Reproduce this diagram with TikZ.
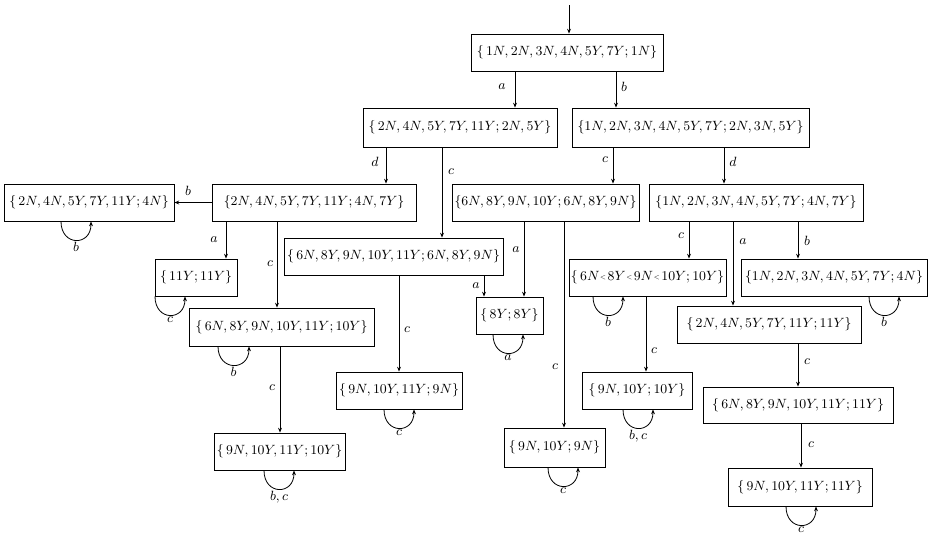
\documentclass[tikz,border=0pt]{standalone}
\usepackage{graphicx}
\usetikzlibrary{arrows.meta}
\def\pxu{0.671pt}
% small raised separator used in one state label
\newcommand\sepmark{\mkern1mu\raisebox{1.1pt}{\scalebox{0.55}{$<$}}\mkern2mu}
\begin{document}
\begin{tikzpicture}[x=0.671pt, y=-0.671pt,
  font=\fontsize{9.1pt}{11pt}\selectfont,
  box/.style={draw, line width=0.6pt, inner sep=0.5pt},
  wh/.style 2 args={minimum width=#1*\pxu, minimum height=#2*\pxu},
  ar/.style={line width=0.55pt, -{Stealth[length=3.2pt, width=2.6pt]}},
  lab/.style={inner sep=0pt},
  llab/.style={below, inner sep=1pt}]
\useasboundingbox (0,0) rectangle (929,534);

% states
\node[box, wh={192}{37}] (b0) at (567,52.5) {$\{\,1N,2N,3N,4N,5Y,7Y;1N\}$};
\node[box, wh={194}{39}] (b1) at (460,127.5) {$\{\,2N,4N,5Y,7Y,11Y;2N,5Y\}$};
\node[box, wh={237}{39}] (b2) at (690.5,127.5) {$\{1N,2N,3N,4N,5Y,7Y;2N,3N,5Y\}$};
\node[box, wh={204}{37}] (b3) at (314,202.5) {$\{2N,4N,5Y,7Y,11Y;4N,7Y\}$};
\node[box, wh={170}{37}] (b4) at (89,202.5) {$\{\,2N,4N,5Y,7Y,11Y;4N\}$};
\node[box, wh={82}{37}] (b5) at (196,277.5) {$\{\,11Y;11Y\}$};
\node[box, wh={185}{38}] (b6) at (281.5,327) {$\{\,6N,8Y,9N,10Y,11Y;10Y\}$};
\node[box, wh={219}{37}] (b7) at (393.5,256.5) {$\{\,6N,8Y,9N,10Y,11Y;6N,8Y,9N\}$};
\node[box, wh={187}{37}] (b8) at (545.5,202.5) {$\{6N,8Y,9N,10Y;6N,8Y,9N\}$};
\node[box, wh={126}{37}] (b9) at (399,390.5) {$\{\,9N,10Y,11Y;9N\}$};
\node[box, wh={214}{37}] (b10) at (756,202.5) {$\{1N,2N,3N,4N,5Y,7Y;4N,7Y\}$};
\node[box, wh={67}{37}] (b11) at (509.5,315.5) {$\{\,8Y;8Y\}$};
\node[box, wh={157}{37}] (b12) at (647.5,277.5) {$\{\,6N\sepmark 8Y\sepmark 9N\sepmark 10Y;10Y\}$};
\node[box, wh={186}{37}] (b13) at (834,277.5) {$\{1N,2N,3N,4N,5Y,7Y;4N\}$};
\node[box, wh={101}{39}] (b14) at (554.5,447.5) {$\{\,9N,10Y;9N\}$};
\node[box, wh={110}{37}] (b15) at (637,390.5) {$\{\,9N,10Y;10Y\}$};
\node[box, wh={184}{37}] (b16) at (769,324.5) {$\{\,2N,4N,5Y,7Y,11Y;11Y\}$};
\node[box, wh={190}{36}] (b17) at (798,405) {$\{\,6N,8Y,9N,10Y,11Y;11Y\}$};
\node[box, wh={144}{38}] (b18) at (800,487) {$\{\,9N,10Y,11Y;11Y\}$};
\node[box, wh={131}{37}] (b19) at (279.5,451.5) {$\{\,9N,10Y,11Y;10Y\}$};

% initial arrow
\coordinate (start) at (569,5);
\draw[ar] (start) -- (b0.north -| start);

% transitions
\draw[ar] (b0.south -| 515,0) -- node[lab, pos=0.43, xshift=-13*\pxu] {$a$} (b1.north -| 515,0);
\draw[ar] (b0.south -| 616,0) -- node[lab, pos=0.43, xshift=8*\pxu] {$b$} (b2.north -| 616,0);
\draw[ar] (b1.south -| 386,0) -- node[lab, pos=0.4, xshift=-11*\pxu] {$d$} (b3.north -| 386,0);
\draw[ar] (b1.south -| 442,0) -- node[lab, pos=0.27, xshift=9*\pxu] {$c$} (b7.north -| 442,0);
\draw[ar] (b2.south -| 613,0) -- node[lab, pos=0.35, xshift=-8*\pxu] {$c$} (b8.north -| 613,0);
\draw[ar] (b2.south -| 724,0) -- node[lab, pos=0.4, xshift=9*\pxu] {$d$} (b10.north -| 724,0);
\draw[ar, line width=1.3pt] (b3.west) -- node[lab, midway, xshift=-5*\pxu, yshift=12*\pxu] {$b$} (b4.east);
\draw[ar] (b3.south -| 226,0) -- node[lab, pos=0.5, xshift=-12*\pxu] {$a$} (b5.north -| 226,0);
\draw[ar] (b3.south -| 277,0) -- node[lab, pos=0.49, xshift=-7*\pxu] {$c$} (b6.north -| 277,0);
\draw[ar] (b7.south -| 484,0) -- node[lab, pos=0.5, xshift=-8*\pxu] {$a$} (b11.north -| 484,0);
\draw[ar] (b7.south -| 399,0) -- node[lab, pos=0.56, xshift=8*\pxu] {$c$} (b9.north -| 399,0);
\draw[ar] (b8.south -| 524,0) -- node[lab, pos=0.38, xshift=-8*\pxu] {$a$} (b11.north -| 524,0);
\draw[ar] (b8.south -| 564,0) -- node[lab, pos=0.705, xshift=-9*\pxu] {$c$} (b14.north -| 564,0);
\draw[ar] (b10.south -| 689,0) -- node[lab, pos=0.37, xshift=-8*\pxu] {$c$} (b12.north -| 689,0);
\draw[ar] (b10.south -| 733,0) -- node[lab, pos=0.235, xshift=10*\pxu] {$a$} (b16.north -| 733,0);
\draw[ar] (b10.south -| 798,0) -- node[lab, pos=0.53, xshift=9*\pxu] {$b$} (b13.north -| 798,0);
\draw[ar] (b12.south -| 646,0) -- node[lab, pos=0.72, xshift=8*\pxu] {$c$} (b15.north -| 646,0);
\draw[ar] (b16.south -| 798,0) -- node[lab, pos=0.43, xshift=9*\pxu] {$c$} (b17.north -| 798,0);
\draw[ar] (b17.south -| 801,0) -- node[lab, pos=0.49, xshift=10*\pxu] {$c$} (b18.north -| 801,0);
\draw[ar] (b6.south -| 280,0) -- node[lab, pos=0.48, xshift=-8*\pxu] {$c$} (b19.north -| 280,0);

% self loops
\draw[ar] (b4.south -| 61,0) .. controls +(0,25) and +(0,25) .. node[llab] {$b$} (b4.south -| 91,0);
\draw[ar] (b5.south -| 155,0) .. controls +(0,25) and +(0,25) .. node[llab] {$c$} (b5.south -| 185,0);
\draw[ar] (b6.south -| 218,0) .. controls +(0,25) and +(0,25) .. node[llab] {$b$} (b6.south -| 249,0);
\draw[ar] (b11.south -| 493,0) .. controls +(0,25) and +(0,25) .. node[llab] {$a$} (b11.south -| 523,0);
\draw[ar] (b12.south -| 593,0) .. controls +(0,25) and +(0,25) .. node[llab] {$b$} (b12.south -| 623,0);
\draw[ar] (b13.south -| 869,0) .. controls +(0,25) and +(0,25) .. node[llab] {$b$} (b13.south -| 899,0);
\draw[ar] (b15.south -| 623,0) .. controls +(0,25) and +(0,25) .. node[llab] {$b,c$} (b15.south -| 653,0);
\draw[ar] (b18.south -| 786,0) .. controls +(0,25) and +(0,25) .. node[llab] {$c$} (b18.south -| 816,0);
\draw[ar] (b19.south -| 264,0) .. controls +(0,25) and +(0,25) .. node[llab] {$b,c$} (b19.south -| 294,0);
\draw[ar] (b9.south -| 384,0) .. controls +(0,25) and +(0,25) .. node[llab] {$c$} (b9.south -| 414,0);
\draw[ar] (b14.south -| 548,0) .. controls +(0,25) and +(0,25) .. node[llab] {$c$} (b14.south -| 578,0);
\end{tikzpicture}
\end{document}
